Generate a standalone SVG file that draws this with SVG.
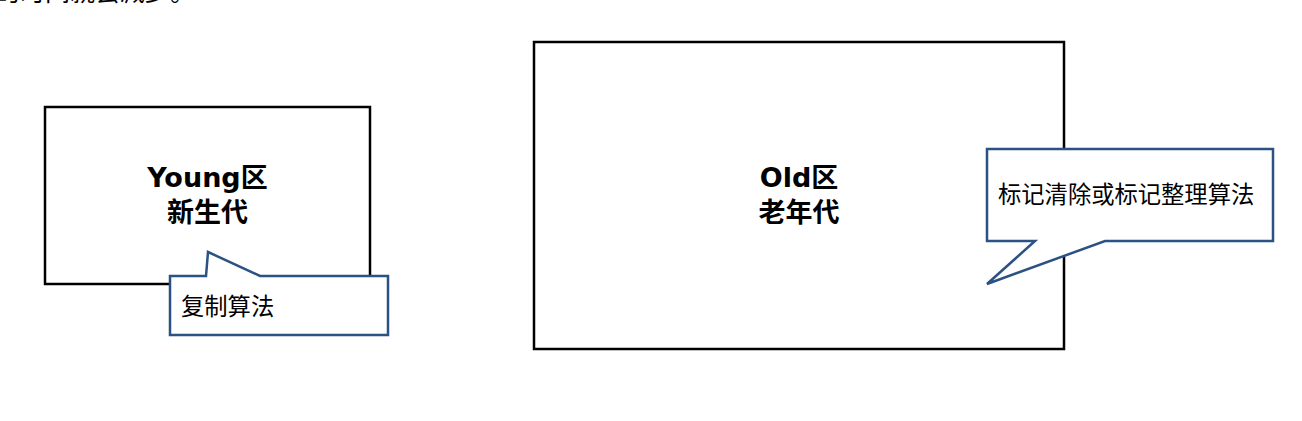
<svg xmlns="http://www.w3.org/2000/svg" width="1302" height="421" viewBox="0 0 1302 421">
<style>
.box{fill:#fff;stroke:#000;stroke-width:2.5}
.call{fill:#fff;stroke:#2b5283;stroke-width:2.5;stroke-linejoin:miter}
.title{font-family:"DejaVu Sans","Noto Sans CJK SC",sans-serif;font-weight:bold;font-size:27px;fill:#000;text-anchor:middle}
.note{font-family:"Noto Sans CJK SC","Noto Sans",sans-serif;font-size:23.3px;fill:#000}
.top{font-family:"Noto Sans CJK SC","Noto Sans",sans-serif;font-size:25px;fill:#000}
</style>
<rect width="1302" height="421" fill="#fff"/>
<text class="top" x="-5" y="1">的时间就会减少。</text>
<g id="young">
<rect class="box" x="45" y="107" width="325" height="177"/>
<text class="title" x="207.5" y="187">Young区</text>
<text class="title" x="207.5" y="222">新生代</text>
</g>
<g id="old">
<rect class="box" x="534" y="42" width="530" height="307"/>
<text class="title" x="799" y="187">Old区</text>
<text class="title" x="799" y="222">老年代</text>
</g>
<g id="callout-copy">
<path class="call" d="M170,276 H206 L208,252 L260,276 H388 V335 H170 Z"/>
<text class="note" x="181" y="315">复制算法</text>
</g>
<g id="callout-mark">
<path class="call" d="M987,149 H1273 V241 H1105 L987,284 L1035,241 H987 Z"/>
<text class="note" x="998" y="203">标记清除或标记整理算法</text>
</g>
<g id="connectors"></g>
</svg>
